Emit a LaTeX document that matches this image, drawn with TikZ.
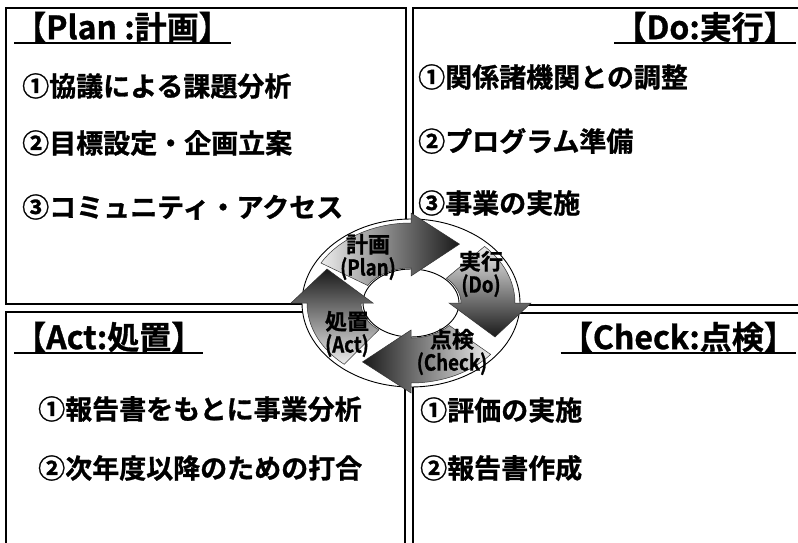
\documentclass[tikz,border=0pt]{standalone}
\usepackage{fontspec}
\newfontfamily\jpb{Noto Sans CJK JP Bold}[FakeBold=1]
\newfontfamily\jpn{Noto Sans CJK JP Bold}[FakeStretch=0.85,FakeBold=1]
\usetikzlibrary{calc}
\begin{document}
\begin{tikzpicture}[x=1pt,y=1pt,
  box/.style={draw=black, line width=1.6pt},
  hdr/.style={font=\jpb\fontsize{32}{36}\selectfont, inner sep=0pt},
  item/.style={font=\jpb\fontsize{27}{30}\selectfont, inner sep=0pt, anchor=west},
  cyc/.style={font=\jpb\fontsize{22}{23}\selectfont, align=center, inner sep=0pt},
  uline/.style={line width=1.8pt},
  arr/.style={draw=black!80, line width=0.5pt}]
\useasboundingbox (0,0) rectangle (798,542);
% boxes
\draw[box] (6,238) rectangle (406,534);
\draw[box] (413,237) rectangle (812,534);
\draw[box] (6,230) rectangle (405,-10);
\draw[box] (413,229) rectangle (812,-10);
% headers
\node[hdr, anchor=west] (hplan) at (14,515) {【Plan :計画】};
\node[hdr, anchor=east] (hdo) at (796,515) {【Do:実行】};
\node[hdr, anchor=west] (hact) at (14,205) {【Act:処置】};
\node[hdr, anchor=east] (hcheck) at (796,205) {【Check:点検】};
\foreach \h in {hplan,hdo,hact,hcheck}
  \draw[uline] ($(\h.south west)+(0,-1)$) -- ($(\h.south east)+(0,-1)$);
% items
\node[item] (p1) at (22,456) {①協議による課題分析};
\node[item] (p2) at (22,399) {②目標設定・企画立案};
\node[item] (p3) at (22,335) {③コミュニティ・アクセス};
\node[item] (d1) at (418,465) {①関係諸機関との調整};
\node[item] (d2) at (418,401) {②プログラム準備};
\node[item] (d3) at (418,339) {③事業の実施};
\node[item] (a1) at (38,133) {①報告書をもとに事業分析};
\node[item] (a2) at (38,74) {②次年度以降のための打合};
\node[item] (c1) at (420,132) {①評価の実施};
\node[item] (c2) at (420,74) {②報告書作成};
% cycle
\coordinate (C) at (411,239);
\fill[white] (C) ellipse[x radius=109, y radius=84];
\draw[line width=0.9pt] (C) ellipse[x radius=109, y radius=84];
\draw[line width=0.9pt] (C) ellipse[x radius=48, y radius=34];
% top arrow (Plan -> Do)
\path[arr, left color=gray!15, right color=black!90]
  ($(C)+(150:104 and 80)$) arc[start angle=150, end angle=90, x radius=104, y radius=80]
  -- ($(C)+(90:120 and 90)$) -- ($(C)+(60:97 and 68)$) -- ($(C)+(90:38 and 27)$)
  -- ($(C)+(90:50 and 35)$) arc[start angle=90, end angle=150, x radius=50, y radius=35] -- cycle;
% right arrow (Do -> Check)
\path[arr, top color=gray!15, bottom color=black!90]
  ($(C)+(45:104 and 80)$) arc[start angle=45, end angle=0, x radius=104, y radius=80]
  -- ($(C)+(0:120 and 90)$) -- ($(C)+(-30:97 and 68)$) -- ($(C)+(0:38 and 27)$)
  -- ($(C)+(0:50 and 35)$) arc[start angle=0, end angle=45, x radius=50, y radius=35] -- cycle;
% bottom arrow (Check -> Act)
\path[arr, right color=gray!15, left color=black!90]
  ($(C)+(-40:104 and 80)$) arc[start angle=-40, end angle=-90, x radius=104, y radius=80]
  -- ($(C)+(-90:120 and 90)$) -- ($(C)+(-120:97 and 68)$) -- ($(C)+(-90:38 and 27)$)
  -- ($(C)+(-90:50 and 35)$) arc[start angle=-90, end angle=-40, x radius=50, y radius=35] -- cycle;
% left arrow (Act -> Plan)
\path[arr, bottom color=gray!15, top color=black!90]
  ($(C)+(230:104 and 80)$) arc[start angle=230, end angle=180, x radius=104, y radius=80]
  -- ($(C)+(180:120 and 90)$) -- ($(C)+(150:97 and 68)$) -- ($(C)+(180:38 and 27)$)
  -- ($(C)+(180:50 and 35)$) arc[start angle=180, end angle=230, x radius=50, y radius=35] -- cycle;
% cycle labels
\node[cyc] (lplan) at (368,285) {計画\\{\jpn (Plan)}};
\node[cyc] (ldo) at (481,268) {実行\\{\jpn (Do)}};
\node[cyc] (lcheck) at (452,190) {点検\\{\jpn (Check)}};
\node[cyc] (lact) at (347,208) {処置\\{\jpn (Act)}};
\end{tikzpicture}
\end{document}
